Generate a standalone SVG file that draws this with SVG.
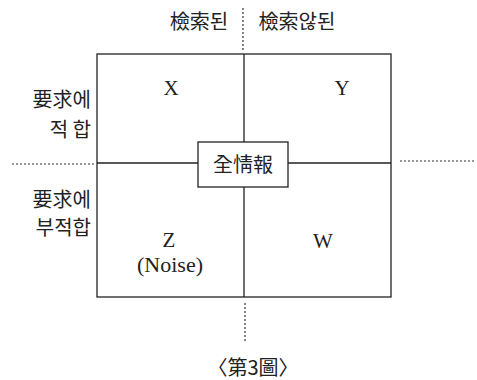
<svg xmlns="http://www.w3.org/2000/svg" width="477" height="380" viewBox="0 0 477 380">
<style>
.ln{stroke:#222;stroke-width:1.3;fill:none}
.dot{stroke:#333;stroke-width:1.2;stroke-dasharray:2 2;fill:none}
.ko{font-family:"Noto Sans CJK KR","Noto Sans CJK SC",sans-serif;font-size:20px;fill:#222}
.lt{font-family:"Liberation Serif",serif;font-size:21px;fill:#222}
</style>
<rect width="477" height="380" fill="#fff"/>
<g id="connectors">
<rect class="ln" x="97" y="54" width="294" height="243"/>
<line class="ln" x1="244" y1="54" x2="244" y2="142"/>
<line class="ln" x1="244" y1="187" x2="244" y2="297"/>
<line class="ln" x1="97" y1="163" x2="198" y2="163"/>
<line class="ln" x1="288" y1="163" x2="391" y2="163"/>
<line class="dot" x1="243" y1="8" x2="243" y2="51"/>
<line class="dot" x1="245" y1="303" x2="245" y2="341"/>
<line class="dot" x1="12" y1="164" x2="96" y2="164"/>
<line class="dot" x1="400" y1="161" x2="476" y2="161"/>
</g>
<g id="all-info">
<rect class="ln" x="198" y="142" width="90" height="45"/>
<text class="ko" x="243" y="172" text-anchor="middle">全情報</text>
</g>
<g id="col-labels">
<text class="ko" x="199" y="29" text-anchor="middle">檢索된</text>
<text class="ko" x="297" y="29" text-anchor="middle">檢索않된</text>
</g>
<g id="row-labels">
<text class="ko" x="91" y="107" text-anchor="end">要求에</text>
<text class="ko" x="91" y="137" text-anchor="end">적 합</text>
<text class="ko" x="91" y="207" text-anchor="end">要求에</text>
<text class="ko" x="91" y="235" text-anchor="end">부적합</text>
</g>
<g id="X"><text class="lt" x="171" y="95" text-anchor="middle">X</text></g>
<g id="Y"><text class="lt" x="342" y="95" text-anchor="middle">Y</text></g>
<g id="Z">
<text class="lt" x="169" y="247" text-anchor="middle">Z</text>
<text class="lt" x="170" y="272" text-anchor="middle" style="font-size:22px">(Noise)</text>
</g>
<g id="W"><text class="lt" x="323" y="248" text-anchor="middle">W</text></g>
<g id="caption"><text class="ko" x="253" y="375" text-anchor="middle">〈第3圖〉</text></g>
</svg>
